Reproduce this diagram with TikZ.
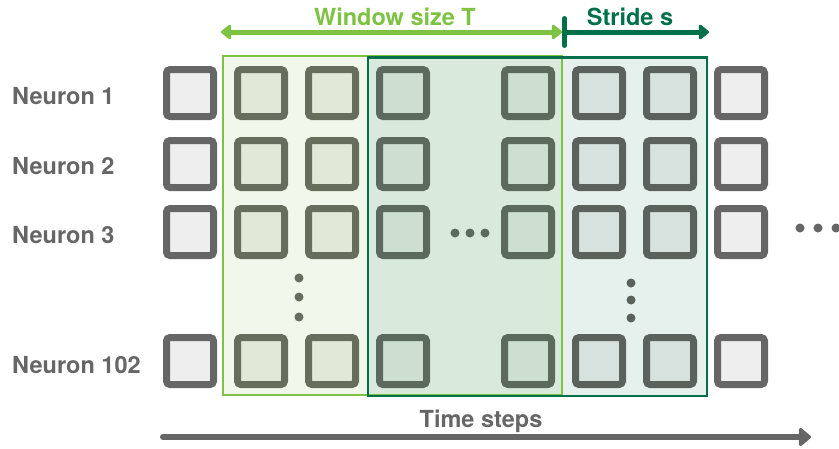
\documentclass[tikz,border=0pt]{standalone}
\usepackage{fontspec}
\setmainfont{TeX Gyre Heros}
\usetikzlibrary{arrows.meta, positioning}

\definecolor{txtgray}{HTML}{666666}
\definecolor{lightgreen}{HTML}{7DC242}
\definecolor{darkgreen}{HTML}{00704A}
\definecolor{winleft}{HTML}{F1F7EA}
\definecolor{winmid}{HTML}{D9EADD}
\definecolor{winright}{HTML}{E6F0EC}
\definecolor{edgeleft}{HTML}{676D5C}
\definecolor{edgemid}{HTML}{5B6A5D}
\definecolor{edgeright}{HTML}{5B625E}
\definecolor{fillout}{HTML}{EEEEEE}
\definecolor{fillleft}{HTML}{E2E8D8}
\definecolor{fillmid}{HTML}{CDDFD0}
\definecolor{fillright}{HTML}{D7E2DE}

\begin{document}
\begin{tikzpicture}[x=1pt, y=-1pt,
    cell/.style={draw, rectangle, rounded corners=3.5pt, line width=7pt, minimum size=47pt, inner sep=0pt},
    cellout/.style={cell, draw=txtgray, fill=fillout},
    cellleft/.style={cell, draw=edgeleft, fill=fillleft},
    cellmid/.style={cell, draw=edgemid, fill=fillmid},
    cellright/.style={cell, draw=edgeright, fill=fillright},
    lbl/.style={font=\fontsize{23.5}{27}\selectfont\bfseries, inner sep=0pt},
    dot/.style={circle, inner sep=0pt, minimum size=9pt, fill=#1},
    dot/.default=txtgray]
    \useasboundingbox (0,0) rectangle (839,448);

    % window regions
    \fill[winleft] (223,56) rectangle (368,395);
    \fill[winmid] (368,56) rectangle (562,395);
    \fill[winright] (562,57) rectangle (707,396);

    % neuron cells
    \foreach \c/\x/\s in {1/190/cellout, 2/261/cellleft, 3/332/cellleft, 4/403/cellmid,
                          5/528/cellmid, 6/599/cellright, 7/670/cellright, 8/741/cellout}
        \foreach \r/\y in {1/93, 2/164, 3/232, 4/361}
            \node[\s] (c\c r\r) at (\x,\y) {};

    % window borders
    \draw[lightgreen, line width=2.5pt] (223,56) rectangle (562,395);
    \draw[darkgreen, line width=2.5pt] (368,57.5) rectangle (707,396);
    \draw[lightgreen, line width=2.5pt] (562,58.8) -- (562,394.8);

    % dots
    \node[dot=edgeleft] (vl1) at (299,278) {};
    \node[dot=edgeleft] (vl2) at (299,297) {};
    \node[dot=edgeleft] (vl3) at (299,317) {};
    \node[dot=edgeright] (vr1) at (631,283) {};
    \node[dot=edgeright] (vr2) at (631,300) {};
    \node[dot=edgeright] (vr3) at (631,318) {};
    \node[dot=edgemid] (hm1) at (455,233) {};
    \node[dot=edgemid] (hm2) at (470,233) {};
    \node[dot=edgemid] (hm3) at (485,233) {};
    \node[dot] (hr1) at (800,228) {};
    \node[dot] (hr2) at (818,228) {};
    \node[dot] (hr3) at (836,228) {};

    % neuron labels
    \node[lbl, text=txtgray, anchor=west] (n1) at (12,96.5) {Neuron 1};
    \node[lbl, text=txtgray, anchor=west] (n2) at (12,166.5) {Neuron 2};
    \node[lbl, text=txtgray, anchor=west] (n3) at (12,235) {Neuron 3};
    \node[lbl, text=txtgray, anchor=west] (n102) at (12,365) {Neuron 102};

    % window and stride arrows
    \coordinate (wl) at (221,32);
    \coordinate (wr) at (562,32);
    \coordinate (sr) at (709,32);
    \draw[lightgreen, line width=5pt, {Triangle[length=11pt,width=17pt,round]}-{Triangle[length=11pt,width=17pt,round]}] (wl) -- (wr);
    \draw[darkgreen, line width=5pt, {Bar[width=27pt,round]}-{Triangle[length=11pt,width=17pt,round]}] (wr) -- (sr);
    \node[lbl, text=lightgreen, anchor=base] (wtxt) at (395,25) {Window size T};
    \node[lbl, text=darkgreen, anchor=base] (stxt) at (630,25) {Stride s};

    % time axis
    \coordinate (ts) at (163,437);
    \coordinate (te) at (811,437);
    \draw[txtgray, line width=6pt, line cap=round, -{Triangle[length=13pt,width=21pt,round]}] (ts) -- (te);
    \node[lbl, text=txtgray, anchor=base] (ttxt) at (481,427) {Time steps};
\end{tikzpicture}
\end{document}
